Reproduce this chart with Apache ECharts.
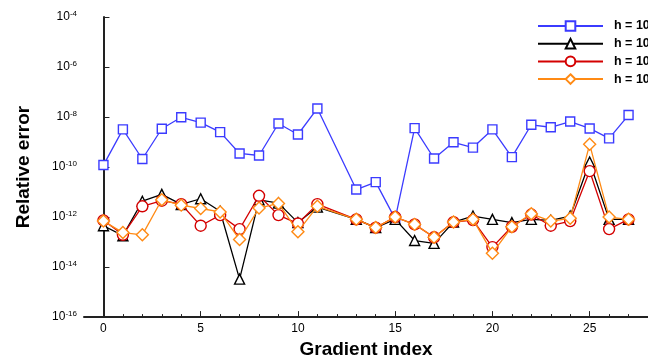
<!DOCTYPE html>
<html>
<head>
<meta charset="utf-8">
<script src="https://cdn.jsdelivr.net/npm/echarts@6/dist/echarts.min.js"></script>
<style>
html,body{margin:0;padding:0;background:#fff;}
#chart{width:648px;height:364px;}
</style>
</head>
<body>
<div id="chart"></div>
<script>
// Gradient indices (index 12 has no data in any series)
var gradientIndex = [0,1,2,3,4,5,6,7,8,9,10,11,12,13,14,15,16,17,18,19,20,21,22,23,24,25,26,27];

var seriesNames = ['h = 10^-2', 'h = 10^-4', 'h = 10^-6', 'h = 10^-8'];

var errBlue = [1.2e-10,3.2e-9,2.1e-10,3.4e-9,9.8e-9,6.0e-9,2.5e-9,3.5e-10,2.9e-10,5.5e-9,2.0e-9,2.2e-8,null,1.26e-11,2.5e-11,8.5e-13,3.6e-9,2.2e-10,9.8e-10,6.0e-10,3.2e-9,2.5e-10,4.9e-9,3.9e-9,6.6e-9,3.5e-9,1.4e-9,1.2e-8];
var errBlack = [4.5e-13,1.8e-13,4.3e-12,8.1e-12,3.2e-12,5.4e-12,1.7e-12,3.3e-15,4.9e-12,3.6e-12,6.0e-13,2.5e-12,null,8.1e-13,3.8e-13,8.1e-13,1.15e-13,8.9e-14,6.3e-13,1.1e-12,8.1e-13,6.0e-13,8.1e-13,7.4e-13,1.1e-12,1.6e-10,8.1e-13,8.1e-13];
var errRed = [7.4e-13,1.95e-13,2.7e-12,4.5e-12,3.3e-12,4.5e-13,1.2e-12,3.3e-13,7.1e-12,1.2e-12,5.5e-13,3.3e-12,null,8.1e-13,3.8e-13,1.0e-12,5.1e-13,1.55e-13,6.3e-13,7.6e-13,6.3e-14,4.1e-13,1.26e-12,4.5e-13,6.9e-13,6.9e-11,3.3e-13,8.1e-13];
var errOrange = [6.9e-13,2.4e-13,1.95e-13,4.9e-12,3.0e-12,2.2e-12,1.6e-12,1.26e-13,2.3e-12,3.5e-12,2.6e-13,2.7e-12,null,8.1e-13,3.8e-13,1.0e-12,5.1e-13,1.55e-13,6.3e-13,8.1e-13,3.6e-14,4.1e-13,1.35e-12,6.9e-13,8.9e-13,8.1e-10,1.0e-12,8.1e-13];

var xLabelValues = [0,5,10,15,20,25];
var xMinorTicks = [0,1,2,3,4,5,6,7,8,9,10,11,12,13,14,15,16,17,18,19,20,21,22,23,24,25,26,27];
var yLabelValues = [1e-16,1e-14,1e-12,1e-10,1e-8,1e-6,1e-4];

function pairs(vals){
  var out = [];
  for (var i = 0; i < gradientIndex.length; i++) {
    if (vals[i] !== null) out.push([gradientIndex[i], vals[i]]);
  }
  return out;
}

var colors = ['#3b3bff', '#000000', '#d40000', '#ff8a14'];
var symbols = ['rect', 'triangle', 'circle', 'diamond'];
var sizes = [9, 10, 11, 12];
var allVals = [errBlue, errBlack, errRed, errOrange];

var series = [];
for (var s = 0; s < 4; s++) {
  series.push({
    name: seriesNames[s],
    type: 'line',
    xAxisIndex: 0,
    yAxisIndex: 0,
    data: pairs(allVals[s]),
    symbol: symbols[s],
    symbolSize: sizes[s],
    showAllSymbol: true,
    lineStyle: {color: colors[s], width: 1.3},
    itemStyle: {color: '#ffffff', borderColor: colors[s], borderWidth: 1.4},
    z: 2 + s
  });
}

var chart = echarts.init(document.getElementById('chart'), null, {renderer: 'canvas'});
chart.setOption({
  animation: false,
  backgroundColor: '#ffffff',
  grid: {left: 84, top: 17, width: 566, height: 306},
  legend: {
    orient: 'vertical',
    left: 532,
    top: 13,
    itemWidth: 65,
    itemHeight: 12,
    itemGap: 3.2,
    data: seriesNames,
    formatter: function (n) {
      var p = n.split('^');
      return p[0] + '{sup|' + p[1] + '}';
    },
    textStyle: {
      fontFamily: 'Liberation Sans, Arial, sans-serif',
      fontWeight: 'bold',
      fontSize: 12.5,
      color: '#000',
      padding: [0, 0, 0, 6],
      rich: {sup: {fontSize: 9, fontWeight: 'bold', padding: [0, 0, 7, 0]}}
    }
  },
  xAxis: [{
    type: 'value',
    min: -1,
    max: 28,
    name: 'Gradient index',
    nameLocation: 'middle',
    nameGap: 18,
    nameTextStyle: {fontFamily: 'Liberation Sans, Arial, sans-serif', fontWeight: 'bold', fontSize: 19, color: '#000'},
    axisLine: {show: true, lineStyle: {color: '#222', width: 2}},
    axisTick: {show: true, inside: true, length: 3, customValues: xMinorTicks, lineStyle: {color: '#222', width: 1}},
    axisLabel: {customValues: xLabelValues, fontFamily: 'Liberation Sans, Arial, sans-serif', fontSize: 12, color: '#000', margin: 6},
    splitLine: {show: false}
  }, {
    type: 'value',
    gridIndex: 0,
    position: 'bottom',
    min: -1,
    max: 28,
    axisLine: {show: false},
    axisTick: {show: true, inside: true, length: 6, customValues: xLabelValues, lineStyle: {color: '#222', width: 1}},
    axisLabel: {show: false},
    splitLine: {show: false}
  }],
  yAxis: [{
    type: 'log',
    logBase: 10,
    min: 1e-16,
    max: 1e-4,
    name: 'Relative error',
    nameLocation: 'middle',
    nameRotate: 90,
    nameGap: 51,
    nameTextStyle: {fontFamily: 'Liberation Sans, Arial, sans-serif', fontWeight: 'bold', fontSize: 19, color: '#000'},
    axisLine: {show: true, lineStyle: {color: '#222', width: 2}},
    axisTick: {show: true, inside: true, length: 6, customValues: yLabelValues, lineStyle: {color: '#222', width: 1}},
    axisLabel: {
      customValues: yLabelValues,
      margin: 7,
      formatter: function (v) {
        return '10{sup|' + Math.round(Math.log10(v)) + '}';
      },
      fontFamily: 'Liberation Sans, Arial, sans-serif',
      fontSize: 12,
      color: '#000',
      rich: {sup: {fontSize: 8, padding: [0, 0, 7, 0], color: '#000'}}
    },
    splitLine: {show: false}
  }],
  series: series
});
</script>
</body>
</html>
